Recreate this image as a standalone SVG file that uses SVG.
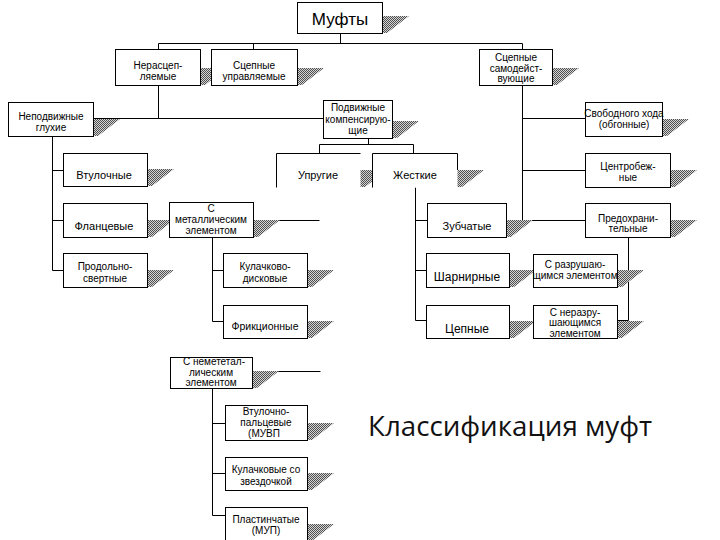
<svg xmlns="http://www.w3.org/2000/svg" width="720" height="540" viewBox="0 0 720 540">
<defs>
<pattern id="hatch" width="2" height="2" patternUnits="userSpaceOnUse">
<rect width="2" height="2" fill="#d4d4d4"/>
<rect width="1" height="1" fill="#505050"/>
<rect x="1" y="1" width="1" height="1" fill="#505050"/>
</pattern>
<style>
.b{fill:#fff;stroke:#000;stroke-width:1}
.w{fill:#fff;stroke:none}
.s{fill:url(#hatch)}
.c{stroke:#000;stroke-width:1;fill:none}
text{font-family:"Liberation Sans",Arial,sans-serif;font-size:10px;text-anchor:middle;fill:#000}
.m{font-size:11px}
.l{font-size:12px}
</style>
</defs>
<rect width="720" height="540" fill="#fff"/>
<g id="connectors" class="c">
<path d="M340.5 33.5V43.5M158.5 43.5H522.5M158.5 43.5V49.5M253.5 43.5V49.5M522.5 43.5V49.5"/>
<path d="M158.5 85.5V118.5M93.5 118.5H323.5"/>
<path d="M52.5 136.5V270.5M52.5 170.5H63.5M52.5 220.5H63.5M52.5 270.5H63.5"/>
<path d="M368.5 138.5V144.5M319.5 144.5H413.5M319.5 144.5V153.5M413.5 144.5V153.5"/>
<path d="M522.5 85.5V220.5M522.5 118.5H585.5M522.5 170.5H585.5M522.5 220.5H585.5"/>
<path d="M253.5 220.5H319.5"/>
<path d="M212.5 237.5V321.5M212.5 270.5H223.5M212.5 321.5H223.5"/>
<path d="M252.5 371.5H320.5"/>
<path d="M212.5 388.5V515.5M212.5 423.5H225.5M212.5 473.5H225.5M212.5 515.5H225.5"/>
<path d="M415.5 187.5V320.5M415.5 220.5H427.5M415.5 270.5H426.5M415.5 320.5H426.5"/>
<path d="M628.5 237.5V320.5M617.5 270.5H628.5M617.5 320.5H628.5"/>
</g>
<g id="n-mufty"><polygon class="s" points="382,16 409,16 387,33 382,33"/><rect class="b" x="297.5" y="2.5" width="85" height="31"/><text x="340" y="25" style="font-size:17px">Муфты</text></g>
<g id="n-nerasc"><polygon class="s" points="200,68 227,68 205,85 200,85"/><rect class="b" x="115.5" y="49.5" width="85" height="36"/><text x="158" y="68.5">Нерасцеп-</text><text x="158" y="80">ляемые</text></g>
<g id="n-sc-upr"><polygon class="s" points="297,68 324,68 302,85 297,85"/><rect class="b" x="211.5" y="49.5" width="86" height="36"/><text x="254" y="68.5">Сцепные</text><text x="254" y="80">управляемые</text></g>
<g id="n-sc-sam"><polygon class="s" points="552,68 579,68 557,85 552,85"/><rect class="b" x="479.5" y="49.5" width="73" height="36"/><text x="516" y="61">Сцепные</text><text x="516" y="71.5">самодейст-</text><text x="516" y="82">вующие</text></g>
<g id="n-nepodv"><polygon class="s" points="93,119 120,119 98,136 93,136"/><rect class="b" x="8.5" y="102.5" width="85" height="34"/><text x="51" y="120">Неподвижные</text><text x="51" y="131">глухие</text></g>
<g id="n-podv"><polygon class="s" points="392,121 419,121 397,138 392,138"/><rect class="b" x="323.5" y="100.5" width="69" height="38"/><text x="358" y="111">Подвижные</text><text x="358" y="123">компенсирую-</text><text x="358" y="134">щие</text></g>
<g id="n-svob"><polygon class="s" points="662,119 689,119 667,136 662,136"/><rect class="b" x="585.5" y="102.5" width="77" height="34"/><text x="624" y="117">Свободного хода</text><text x="624" y="128">(обгонные)</text></g>
<g id="n-vtul"><polygon class="s" points="147,169 174,169 152,186 147,186"/><rect class="b" x="63.5" y="153.5" width="84" height="33"/><text class="m" x="104" y="179">Втулочные</text></g>
<g id="n-flanc"><polygon class="s" points="147,220 174,220 152,237 147,237"/><rect class="b" x="63.5" y="203.5" width="84" height="34"/><text class="m" x="104" y="230">Фланцевые</text></g>
<g id="n-prod"><polygon class="s" points="147,270 174,270 152,287 147,287"/><rect class="b" x="63.5" y="253.5" width="84" height="34"/><text x="105" y="270">Продольно-</text><text x="105" y="282">свертные</text></g>
<g id="n-smet"><polygon class="s" points="253,220 280,220 258,237 253,237"/><rect class="b" x="169.5" y="202.5" width="84" height="35"/><text x="211" y="212">С</text><text x="211" y="223">металлическим</text><text x="211" y="234">элементом</text></g>
<g id="n-uprug"><polygon class="s" points="360,170 387,170 365,187 360,187"/><rect class="w" x="276.5" y="153.5" width="84" height="34"/><path class="c" d="M276.5 187.5V153.5H360.5"/><text class="m" x="318" y="179">Упругие</text></g>
<g id="n-zhest"><polygon class="s" points="457,170 484,170 462,187 457,187"/><rect class="w" x="372.5" y="153.5" width="85" height="34"/><path class="c" d="M372.5 187.5V153.5H457.5V170"/><text class="m" x="415" y="179">Жесткие</text></g>
<g id="n-kulach"><polygon class="s" points="307,270 334,270 312,287 307,287"/><rect class="b" x="223.5" y="253.5" width="84" height="34"/><text x="265" y="270">Кулачково-</text><text x="265" y="282">дисковые</text></g>
<g id="n-frik"><polygon class="s" points="307,321 334,321 312,338 307,338"/><rect class="b" x="223.5" y="305.5" width="84" height="33"/><text x="265" y="330" style="font-size:10.5px">Фрикционные</text></g>
<g id="n-snemet"><polygon class="s" points="252,371 279,371 257,388 252,388"/><rect class="b" x="170.5" y="357.5" width="82" height="31"/><text x="214" y="365">С немететал-</text><text x="211" y="376">лическим</text><text x="211" y="386">элементом</text></g>
<g id="n-muvp"><polygon class="s" points="307,423 334,423 312,440 307,440"/><rect class="b" x="225.5" y="405.5" width="82" height="35"/><text x="266" y="415">Втулочно-</text><text x="266" y="426">пальцевые</text><text x="264" y="437">(МУВП</text></g>
<g id="n-zvezd"><polygon class="s" points="307,473 334,473 312,490 307,490"/><rect class="b" x="225.5" y="457.5" width="82" height="33"/><text x="266" y="473">Кулачковые со</text><text x="266" y="485">звездочкой</text></g>
<g id="n-plast"><polygon class="s" points="307,524 334,524 312,541 307,541"/><rect class="b" x="225.5" y="507.5" width="82" height="40"/><text x="266" y="523">Пластинчатые</text><text x="266" y="534">(МУП)</text></g>
<g id="n-zub"><polygon class="s" points="506,220 533,220 511,237 506,237"/><rect class="b" x="427.5" y="203.5" width="79" height="34"/><text class="m" x="467" y="230">Зубчатые</text></g>
<g id="n-sharn"><polygon class="s" points="509,270 536,270 514,287 509,287"/><rect class="b" x="426.5" y="253.5" width="83" height="34"/><text class="l" x="467" y="281">Шарнирные</text></g>
<g id="n-cep"><polygon class="s" points="509,321 536,321 514,338 509,338"/><rect class="b" x="426.5" y="305.5" width="83" height="33"/><text class="l" x="467" y="333">Цепные</text></g>
<g id="n-centr"><polygon class="s" points="670,170 697,170 675,187 670,187"/><rect class="b" x="585.5" y="153.5" width="85" height="34"/><text x="628" y="170">Центробеж-</text><text x="628" y="181">ные</text></g>
<g id="n-predohr"><polygon class="s" points="670,220 697,220 675,237 670,237"/><rect class="b" x="585.5" y="203.5" width="85" height="34"/><text x="628" y="222">Предохрани-</text><text x="628" y="232">тельные</text></g>
<g id="n-razr"><polygon class="s" points="617,270 644,270 622,287 617,287"/><rect class="b" x="533.5" y="254.5" width="84" height="33"/><text x="575" y="268">С разрушаю-</text><text x="575" y="279">щимся элементом</text></g>
<g id="n-nerazr"><polygon class="s" points="617,321 644,321 622,338 617,338"/><rect class="b" x="533.5" y="305.5" width="84" height="33"/><text x="575" y="316">С неразру-</text><text x="575" y="326">шающимся</text><text x="575" y="337">элементом</text></g>
<text x="368" y="436" style="font-family:'Open Sans','Noto Sans',sans-serif;font-size:27px;text-anchor:start;fill:#111" textLength="284" lengthAdjust="spacingAndGlyphs">Классификация муфт</text>
</svg>
